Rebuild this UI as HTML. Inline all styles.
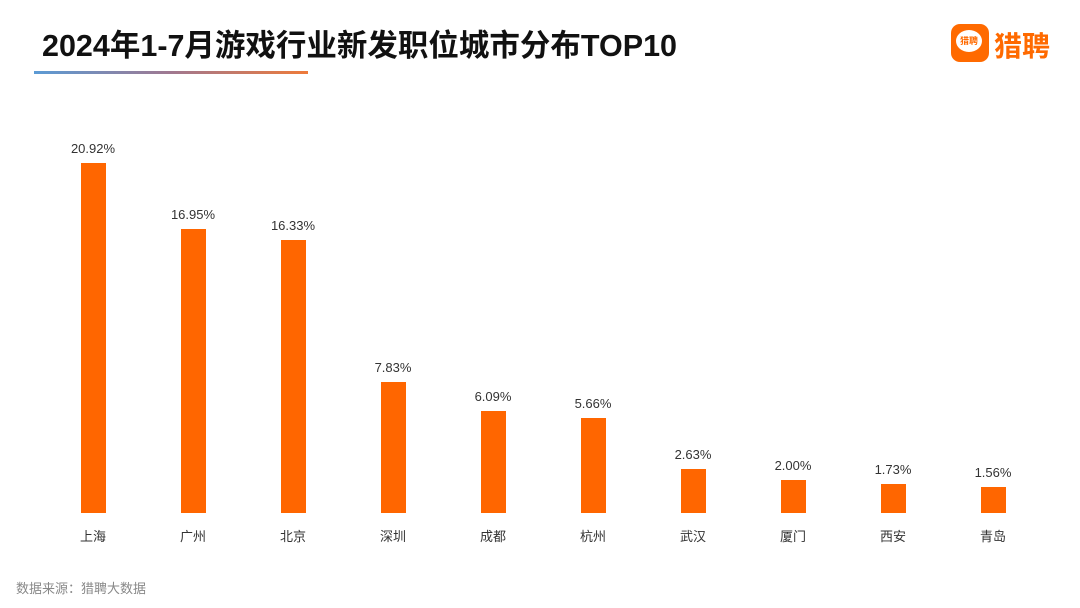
<!DOCTYPE html><html><head><meta charset="utf-8"><style>
body{margin:0;width:1080px;height:608px;background:#fff;overflow:hidden;font-family:"Liberation Sans","Noto Sans CJK SC",sans-serif;position:relative}
.t{position:absolute;left:42px;top:21px;font-size:30.5px;font-weight:bold;color:#111;letter-spacing:0px}
.ln{position:absolute;left:34px;top:71px;width:274px;height:3px;background:linear-gradient(90deg,#5b9bd5,#a07890,#ee7a3a)}
.logo{position:absolute;left:951px;top:24px;width:38px;height:38px;border-radius:9px;background:#ff6a00}
.logo div{position:absolute;left:5px;top:6px;width:26px;height:22px;border-radius:50%;background:#fff;color:#ff6a00;font-size:9px;font-weight:bold;text-align:center;line-height:22px}
.lt{position:absolute;left:994px;top:25px;font-size:28px;color:#ff6a00;font-weight:bold}
.b{position:absolute;width:25px;background:#ff6600}
.v{position:absolute;width:100px;text-align:center;font-size:13px;color:#333}
.c{position:absolute;width:100px;text-align:center;font-size:13px;color:#333;top:526px}
.s{position:absolute;left:16px;top:578px;font-size:13px;color:#888}
</style></head><body>
<div class="t">2024年1-7月游戏行业新发职位城市分布TOP10</div>
<div class="ln"></div>
<div class="logo"><div>猎聘</div></div><div class="lt">猎聘</div>
<div id="ch"></div>
<div class="s">数据来源：猎聘大数据</div>
<script>
var d=[["上海",20.92],["广州",16.95],["北京",16.33],["深圳",7.83],["成都",6.09],["杭州",5.66],["武汉",2.63],["厦门",2.00],["西安",1.73],["青岛",1.56]];
var h="";d.forEach(function(e,i){var cx=93+i*100,ht=e[1]*16.73,top=513-ht;
h+='<div class="b" style="left:'+(cx-12.5)+'px;top:'+top+'px;height:'+ht+'px"></div>';
h+='<div class="v" style="left:'+(cx-50)+'px;top:'+(top-22)+'px">'+e[1].toFixed(2)+'%</div>';
h+='<div class="c" style="left:'+(cx-50)+'px">'+e[0]+'</div>';});
document.getElementById("ch").innerHTML=h;
</script></body></html>
